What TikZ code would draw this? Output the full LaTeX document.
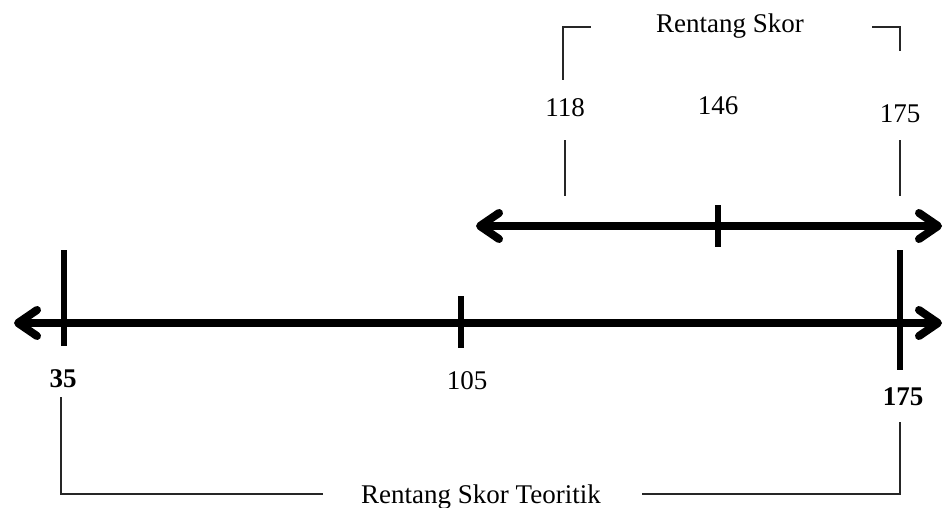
\documentclass[tikz,border=0pt]{standalone}
\usepackage{fontspec}
\setmainfont{Liberation Serif}
\usetikzlibrary{arrows.meta}
\tikzset{mybarb/.tip={Straight Barb[length=19pt,width=26pt,line cap=round,line join=round]}}
\begin{document}
\begin{tikzpicture}[x=1pt,y=-1pt,
  heavy/.style={line width=8pt},
  tick/.style={line width=6.5pt},
  hair/.style={line width=1.2pt, draw=black!85},
  lbl/.style={font=\fontsize{27}{32}\selectfont, inner sep=0pt},
  blbl/.style={font=\fontsize{27}{32}\selectfont\bfseries, inner sep=0pt}]
\useasboundingbox (0,0) rectangle (944,508);
% main line
\coordinate (mL) at (14,323);
\coordinate (mR) at (942,323);
\draw[heavy, mybarb-mybarb] (mL) -- (mR);
\coordinate (t35a) at (64,250); \coordinate (t35b) at (64,346);
\coordinate (t105a) at (461,296); \coordinate (t105b) at (461,348);
\coordinate (t175a) at (900,250); \coordinate (t175b) at (900,370);
\draw[tick] (t35a) -- (t35b);
\draw[tick] (t105a) -- (t105b);
\draw[tick] (t175a) -- (t175b);
% upper line
\coordinate (uL) at (476,226);
\coordinate (uR) at (942,226);
\draw[heavy, mybarb-mybarb] (uL) -- (uR);
\coordinate (t146a) at (718,205); \coordinate (t146b) at (718,247);
\draw[tick] (t146a) -- (t146b);
% labels
\node[blbl] (l35) at (63,379) {35};
\node[lbl] (l105) at (467,381) {105};
\node[blbl] (l175b) at (903,397) {175};
\node[lbl] (l118) at (565,108) {118};
\node[lbl] (l146) at (718,106) {146};
\node[lbl] (l175t) at (900,114) {175};
\node[lbl, anchor=base] (top) at (730,33) {Rentang Skor};
\node[lbl, anchor=base] (bot) at (481,503) {Rentang Skor Teoritik};
% thin connectors
\coordinate (a1) at (565,140); \coordinate (a2) at (565,196);
\draw[hair] (a1) -- (a2);
\coordinate (b1) at (900,140); \coordinate (b2) at (900,196);
\draw[hair] (b1) -- (b2);
% top bracket
\coordinate (tl1) at (563,80); \coordinate (tl2) at (563,27); \coordinate (tl3) at (591,27);
\draw[hair] (tl1) -- (tl2) -- (tl3);
\coordinate (tr1) at (872,27); \coordinate (tr2) at (900,27); \coordinate (tr3) at (900,51);
\draw[hair] (tr1) -- (tr2) -- (tr3);
% bottom bracket
\coordinate (bl1) at (61,397); \coordinate (bl2) at (61,494); \coordinate (bl3) at (323,494);
\draw[hair] (bl1) -- (bl2) -- (bl3);
\coordinate (br1) at (642,494); \coordinate (br2) at (900,494); \coordinate (br3) at (900,422);
\draw[hair] (br1) -- (br2) -- (br3);
\end{tikzpicture}
\end{document}
